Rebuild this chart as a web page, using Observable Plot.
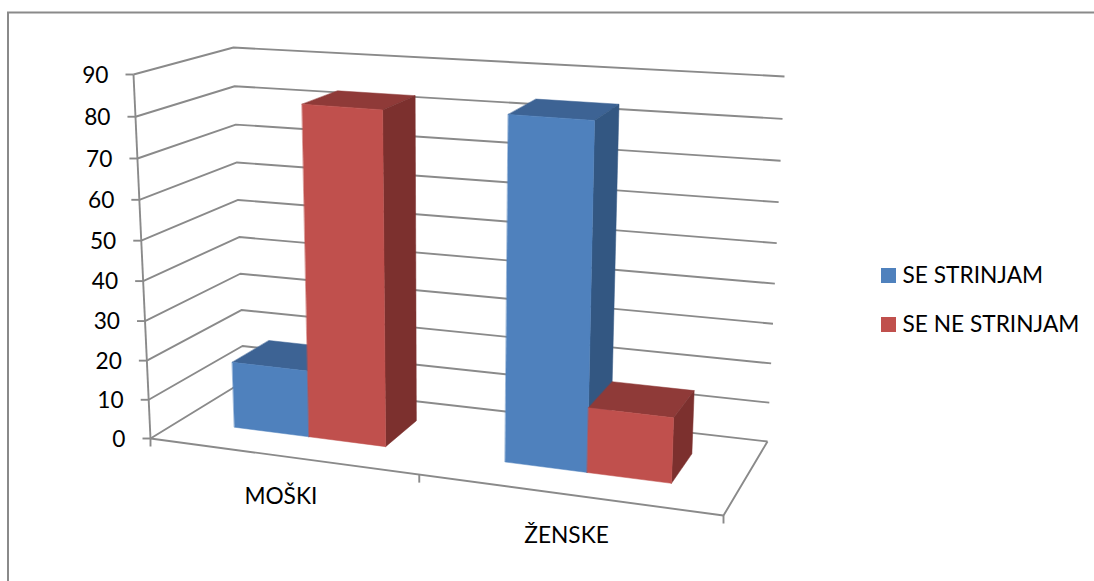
<!DOCTYPE html>
<html>
<head>
<meta charset="utf-8">
<script src="https://cdn.jsdelivr.net/npm/d3@7"></script>
<script src="https://cdn.jsdelivr.net/npm/@observablehq/plot@0.6"></script>
<style>
  html, body { margin: 0; padding: 0; background: #fff; }
  svg { display: block; }
</style>
</head>
<body>
<div id="chart"></div>
<script>
// Chart data
const categories = ["MOŠKI", "ŽENSKE"];
const seriesNames = ["SE STRINJAM", "SE NE STRINJAM"];
const seStrinjam = [17, 84];
const seNeStrinjam = [83, 16];
const axisValues = [0, 10, 20, 30, 40, 50, 60, 70, 80, 90];

// Face colours per series: front, top, side
const frontColors = ["#4f81bd", "#c0504d"];
const topColors = ["#3d6394", "#8f3a38"];
const sideColors = ["#335782", "#7c302e"];
const lineColor = "#8a8a8a";

// Corners of the plot box on screen, seen in perspective
const W = 1094, H = 581;
const floorBox = {fl: [150, 438], fr: [723, 515], br: [767, 441], bl: [243, 381]};
const topBox = {fl: [133, 74], fr: [739, 117], br: [784, 76], bl: [233, 47]};
const vMax = 90;
const barForeshorten = 1.1, axisForeshorten = 1.132, valueForeshorten = 1.05;

// Bar placement in the box: u across the categories, w into the depth
const groupOffset = 0.106, barWidth = 0.1425;
const depthFront = 0.32, depthBack = 0.73;

const warp = (t, r) => t / (t + r * (1 - t));
const mix = (p, q, t) => [p[0] + (q[0] - p[0]) * t, p[1] + (q[1] - p[1]) * t];
const onPlane = (box, a, b) => mix(mix(box.fl, box.fr, a), mix(box.bl, box.br, a), b);

// Maps a point (category position, value, depth) to chart coordinates
function project(u, v, w, foreshorten = barForeshorten) {
  const a = warp(u, foreshorten);
  return mix(onPlane(floorBox, a, w), onPlane(topBox, a, w), warp(v / vMax, valueForeshorten));
}

// Polygon rows for the three visible faces of every bar, back to front
const faceRows = [];
function addFace(id, fill, corners) {
  corners.forEach(([u, v, w]) => {
    const [x, y] = project(u, v, w);
    faceRows.push({id, fill, x, y});
  });
}
categories.forEach((cat, c) => {
  [seStrinjam, seNeStrinjam].forEach((values, s) => {
    const u0 = c / categories.length + groupOffset + s * barWidth;
    const u1 = u0 + barWidth;
    const v = values[c];
    const id = `${cat}-${s}`;
    addFace(id + "-top", topColors[s], [[u0, v, depthFront], [u1, v, depthFront], [u1, v, depthBack], [u0, v, depthBack]]);
    addFace(id + "-side", sideColors[s], [[u1, 0, depthFront], [u1, 0, depthBack], [u1, v, depthBack], [u1, v, depthFront]]);
    addFace(id + "-front", frontColors[s], [[u0, 0, depthFront], [u1, 0, depthFront], [u1, v, depthFront], [u0, v, depthFront]]);
  });
});

// Walls, floor and axes as open polylines
const wireRows = [];
function addWire(id, points) {
  points.forEach(([u, v, w]) => {
    const [x, y] = project(u, v, w);
    wireRows.push({id, x, y});
  });
}
axisValues.forEach((v) => addWire(`grid-${v}`, [[0, v, 0], [0, v, 1], [1, v, 1]]));
addWire("axis", [[0, 0, 0], [0, vMax, 0]]);
addWire("floor", [[0, 0, 0], [1, 0, 0], [1, 0, 1]]);

const tickRows = axisValues.map((v) => {
  const [x, y] = project(0, v, 0);
  return {label: String(v), x, y};
});
const categoryTicks = [0, 0.5, 1].map((u) => {
  const [x, y] = project(u, 0, 0, axisForeshorten);
  return {x, y};
});
const categoryRows = categories.map((name, c) => {
  const [x, y] = project((c + 0.5) / categories.length, 0, 0, axisForeshorten);
  return {name, x, y};
});

// Legend rows
const legendRows = seriesNames.map((name, i) => ({
  name,
  fill: frontColors[i],
  top: 268 + i * 49
}));

const chart = Plot.plot({
  width: W,
  height: H,
  margin: 0,
  x: {type: "linear", domain: [0, W], range: [0, W], axis: null},
  y: {type: "linear", domain: [0, H], range: [0, H], axis: null},
  color: {type: "identity"},
  style: {fontFamily: "Lato, sans-serif", background: "#fff", color: "#000"},
  marks: [
    // outer chart border
    Plot.ruleX([7.5], {y1: 12, y2: H, stroke: lineColor, strokeWidth: 2}),
    Plot.ruleY([12], {x1: 7, x2: W, stroke: lineColor, strokeWidth: 2}),
    // walls, floor, axis
    Plot.line(wireRows, {x: "x", y: "y", z: "id", stroke: lineColor, strokeWidth: 1.9, strokeLinejoin: "miter", strokeLinecap: "butt"}),
    Plot.link(tickRows, {x1: "x", y1: "y", x2: (d) => d.x - 8, y2: "y", stroke: lineColor, strokeWidth: 1.9}),
    Plot.link(categoryTicks, {x1: "x", y1: "y", x2: "x", y2: (d) => d.y + 8, stroke: lineColor, strokeWidth: 1.9}),
    // bars
    Plot.line(faceRows, {x: "x", y: "y", z: "id", fill: "fill", stroke: "fill", strokeWidth: 0.5, curve: "linear-closed"}),
    // text
    Plot.text(tickRows, {x: "x", y: "y", text: "label", dx: -25, dy: 1, textAnchor: "end", fontSize: 22.7, fill: "#000"}),
    Plot.text(categoryRows, {x: "x", y: "y", text: "name", dy: 41, fontSize: 22.7, fill: "#000"}),
    // legend
    Plot.rect(legendRows, {x1: () => 881, x2: () => 896, y1: "top", y2: (d) => d.top + 15, fill: "fill"}),
    Plot.text(legendRows, {x: () => 902, y: (d) => d.top + 7.5, text: "name", textAnchor: "start", fontSize: 22.7, fill: "#000"})
  ]
});
document.getElementById("chart").appendChild(chart);
</script>
</body>
</html>
